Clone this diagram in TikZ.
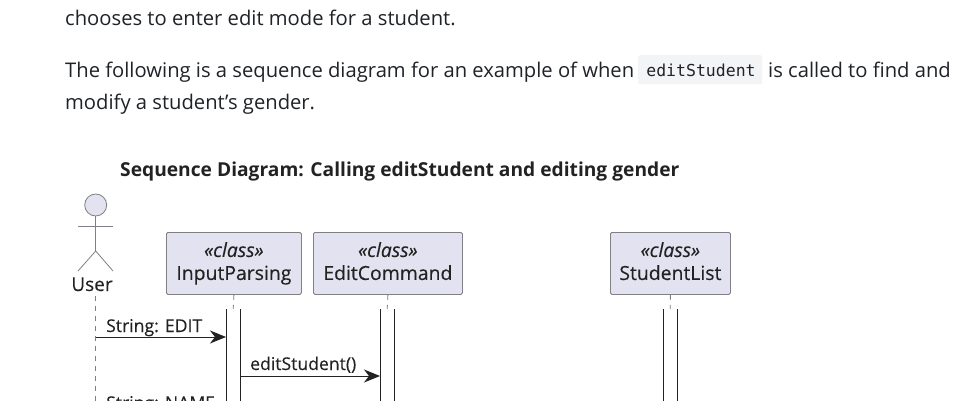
\documentclass[tikz,border=0pt]{standalone}
\usepackage{fontspec}
\setmainfont{Open Sans}
\setmonofont{DejaVu Sans Mono}
\newfontfamily\umlfont[FakeBold=0.25,ItalicFeatures={FakeBold=0.25}]{Open Sans}
\usetikzlibrary{arrows.meta}
\definecolor{bodytext}{HTML}{1F2328}
\definecolor{umlfill}{HTML}{E2E2F0}
\definecolor{umlline}{HTML}{7F7F85}
\definecolor{umltext}{HTML}{222222}
\definecolor{codebg}{HTML}{F3F4F5}
\newcommand{\boxline}{\vphantom{Ag}}
\tikzset{
  x=1pt,y=-1pt,
  para/.style={anchor=base west,inner sep=0,text=bodytext,font=\fontsize{20.2}{24}\selectfont},
  title/.style={anchor=base west,inner sep=0,text=umltext,font=\fontsize{19.2}{23}\selectfont\bfseries},
  classbox/.style={draw=umlline,fill=umlfill,rounded corners=1.5pt,line width=.8pt,inner sep=0,anchor=north west,align=center,text=umltext,font=\fontsize{19.4}{23}\umlfont\selectfont},
  lifebar/.style={fill=white,inner sep=0,anchor=north west,minimum width=14pt,minimum height=120pt},
  barside/.style={draw=umltext,line width=1pt},
  life/.style={draw=umlline,line width=.8pt,dash pattern=on 5pt off 5pt},
  msg/.style={draw=umltext,line width=1pt,-{Stealth[length=16pt,width=13pt,inset=5pt]}},
  msgtext/.style={anchor=base west,inner sep=0,text=umltext,font=\fontsize{17.6}{21}\umlfont\selectfont},
  actorline/.style={draw=umlline,line width=.8pt}
}
\begin{document}
\begin{tikzpicture}
\useasboundingbox (0,0) rectangle (970,401);
\clip (0,0) rectangle (970,401);
\fill[white] (0,0) rectangle (970,401);
% prose
\node[para] (p1) at (65,26) {chooses to enter edit mode for a student.};
\node[para] (p2) at (65,78) {The following is a sequence diagram for an example of when};
\node[anchor=north west,fill=codebg,rounded corners=2pt,inner sep=0,minimum width=124pt,minimum height=29pt] (cb) at (638,55) {};
\node[anchor=base,inner sep=0,text=bodytext,font=\fontsize{16.5}{20}\selectfont\ttfamily] (code) at (701,77) {editStudent};
\node[para,anchor=base east] (p3) at (951,78) {is called to find and};
\node[para] (p4) at (65,110) {modify a student’s gender.};
\node[title] (t) at (120,177) {Sequence Diagram: Calling editStudent and editing gender};
% actor
\node[circle,draw=umlline,fill=umlfill,line width=.8pt,minimum size=22pt,inner sep=0] (head) at (95.7,205) {};
\coordinate (hip) at (95.7,251);
\coordinate (shl) at (78,226);
\coordinate (shr) at (113,226);
\coordinate (legl) at (78,271);
\coordinate (legr) at (113,271);
\draw[actorline] (head.south) -- (hip);
\draw[actorline] (shl) -- (shr);
\draw[actorline] (legl) -- (hip) -- (legr);
\node[anchor=base,inner sep=0,text=umltext,font=\fontsize{19}{23}\umlfont\selectfont] (user) at (92,291) {User};
% participants
\node[classbox,minimum width=135pt,minimum height=62pt] (ip) at (166,232) {\boxline{\itshape «class»}\\\boxline InputParsing};
\node[classbox,minimum width=149pt,minimum height=62pt] (ec) at (313,232) {\boxline{\itshape «class»}\\\boxline EditCommand};
\node[classbox,minimum width=120pt,minimum height=62pt] (sl) at (610,232) {\boxline{\itshape «class»}\\\boxline StudentList};
% activation bars
\node[lifebar] (ipb) at (226,309) {};
\node[lifebar] (ecb) at (380,309) {};
\node[lifebar] (slb) at (663,309) {};
\draw[barside] (ipb.north west) -- (ipb.south west) (ipb.north east) -- (ipb.south east);
\draw[barside] (ecb.north west) -- (ecb.south west) (ecb.north east) -- (ecb.south east);
\draw[barside] (slb.north west) -- (slb.south west) (slb.north east) -- (slb.south east);
% lifelines
\coordinate (ub) at (95.7,401);
\coordinate (ut) at (95.7,296);
\draw[life] (ut) -- (ub);
\draw[life] (ip.south) -- (ipb.north);
\draw[life] (ec.south) -- (ecb.north);
\draw[life] (sl.south) -- (slb.north);
% messages
\coordinate (m1) at (95.7,337);
\coordinate (m2) at (ipb.west |- m1);
\draw[msg] (m1) -- (m2);
\node[msgtext] (l1) at (106,332) {String: EDIT};
\coordinate (m3) at (ipb.east |- 0,376);
\coordinate (m4) at (ecb.west |- 0,376);
\draw[msg] (m3) -- (m4);
\node[msgtext] (l2) at (250,370) {editStudent()};
\node[msgtext] (l3) at (106,409) {String: NAME};
\end{tikzpicture}
\end{document}
